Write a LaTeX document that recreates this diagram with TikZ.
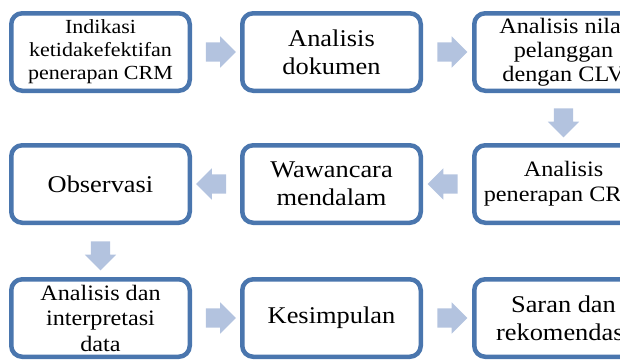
\documentclass[tikz,border=0pt]{standalone}
\usepackage{fontspec}
\setmainfont{Liberation Serif}[FakeStretch=1.1]
\usetikzlibrary{calc,shapes.arrows}
\definecolor{boxblue}{HTML}{4A76AE}
\definecolor{arrowblue}{HTML}{B3C3DF}

\begin{document}
\begin{tikzpicture}[x=1pt, y=-1pt,
  stepbox/.style={draw=boxblue, line width=4.5pt, rounded corners=11pt,
    fill=white, minimum width=178.5pt, minimum height=77.5pt,
    inner sep=0pt, align=center, font=\fontsize{24}{28}\selectfont},
  flowarrow/.style={single arrow, fill=arrowblue, draw=none,
    minimum height=30pt, inner xsep=0pt, inner ysep=9.5pt,
    single arrow head extend=6pt}]
  \useasboundingbox (0,0) rectangle (620,360);
  \clip (0,0) rectangle (620,360);
  % first row
  \node[stepbox, font=\fontsize{20}{23}\selectfont] (indikasi) at (100.5,52)
    {Indikasi\\ketidakefektifan\\penerapan CRM};
  \node[stepbox] (dokumen) at (331.5,52) {Analisis\\dokumen};
  \node[stepbox, font=\fontsize{22}{24}\selectfont] (clv) at (563.5,52)
    {Analisis nilai\\pelanggan\\dengan CLV};
  % second row
  \node[stepbox] (observasi) at (100.5,184) {Observasi};
  \node[stepbox] (wawancara) at (331.5,184) {Wawancara\\mendalam};
  \node[stepbox, font=\fontsize{22}{25}\selectfont] (penerapan) at (563.5,184)
    {Analisis\\penerapan CRM};
  % third row
  \node[stepbox, font=\fontsize{22}{25.5}\selectfont] (interpretasi) at (100.5,318)
    {Analisis dan\\interpretasi\\data};
  \node[stepbox] (kesimpulan) at (331.5,318) {Kesimpulan};
  \node[stepbox] (saran) at (563.5,318) {Saran dan\\rekomendasi};
  % arrows between the steps
  \node[flowarrow] (a1) at ($(indikasi.east)!.5!(dokumen.west)$) {};
  \node[flowarrow] (a2) at ($(dokumen.east)!.5!(clv.west)$) {};
  \node[flowarrow, rotate=-90, minimum height=29pt] (a3) at ($(clv.south)!.5!(penerapan.north)$) {};
  \node[flowarrow, rotate=180] (a4) at ($(penerapan.west)!.5!(wawancara.east)$) {};
  \node[flowarrow, rotate=180] (a5) at ($(wawancara.west)!.5!(observasi.east)$) {};
  \node[flowarrow, rotate=-90, minimum height=29pt] (a6) at ($(observasi.south)!.5!(interpretasi.north)$) {};
  \node[flowarrow] (a7) at ($(interpretasi.east)!.5!(kesimpulan.west)$) {};
  \node[flowarrow] (a8) at ($(kesimpulan.east)!.5!(saran.west)$) {};
\end{tikzpicture}
\end{document}
